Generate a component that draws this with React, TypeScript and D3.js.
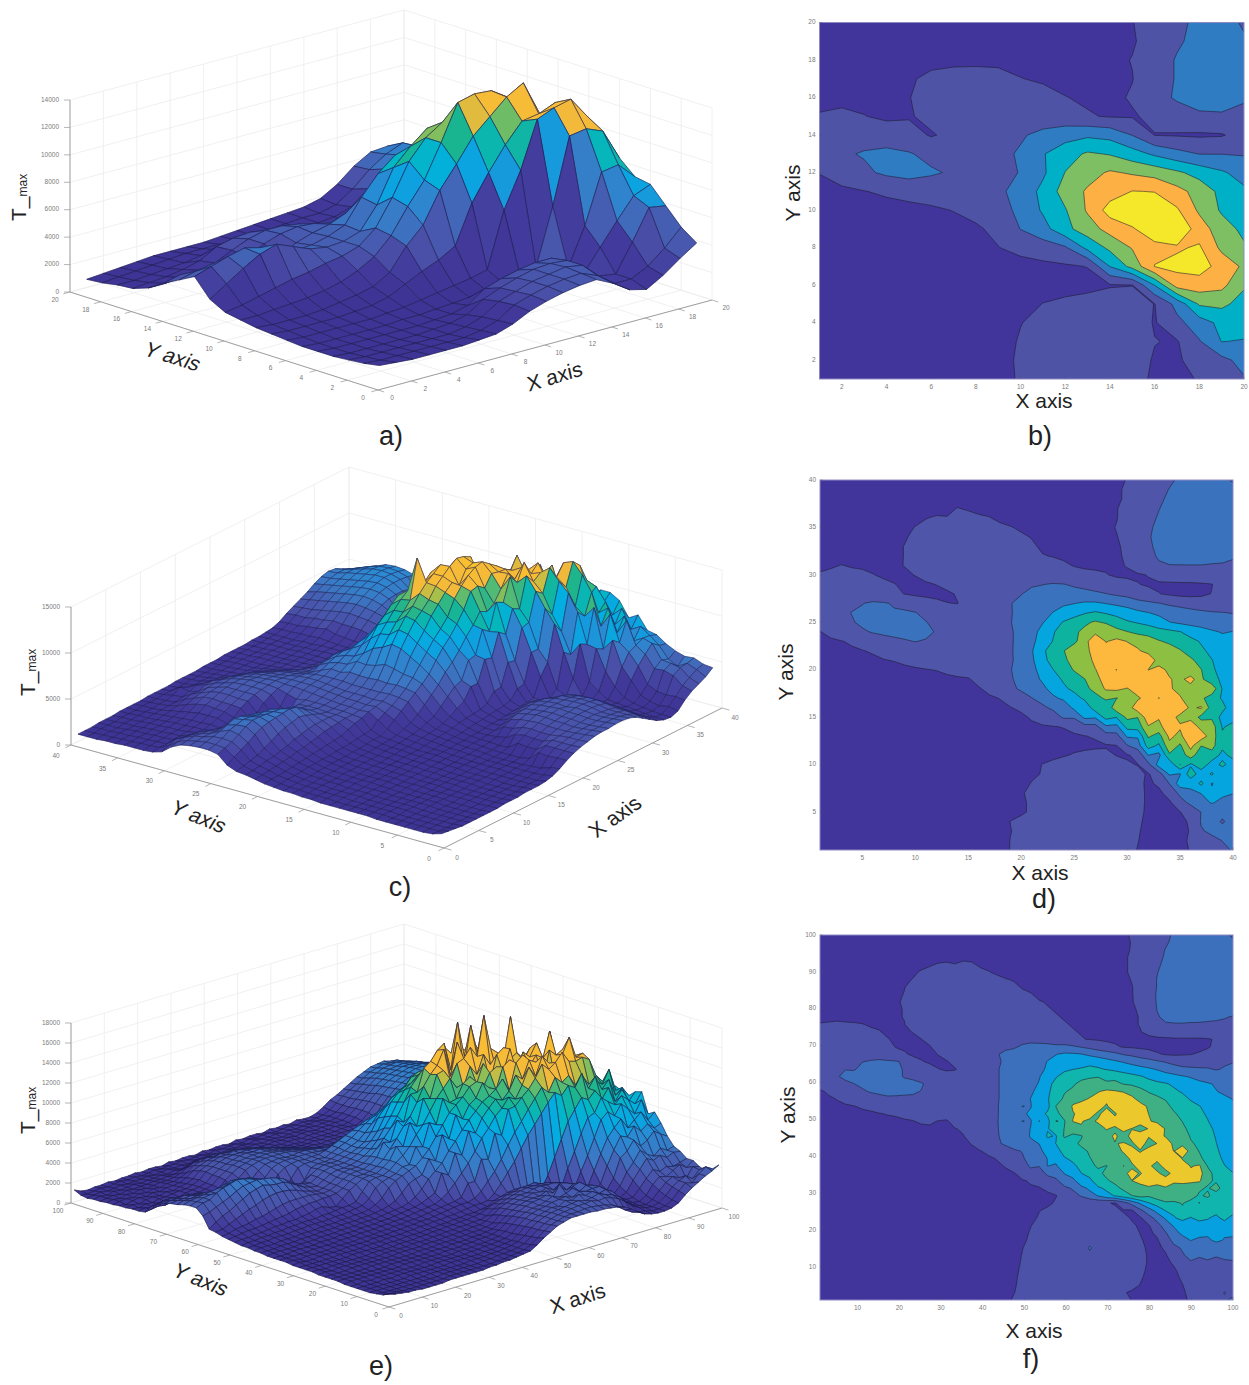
import React from 'react';
import * as d3 from 'd3';

// T_max values, in hundreds. First row is the highest Y, first column X = 1.
const tmaxA = [
  [6,7,8,9,10,10,10,10,11,12,13,14,15,16,19,26,36,43,44,38],
  [7,8,9,10,11,12,12,12,12,12,13,14,15,15,18,26,37,45,50,41],
  [9,9,10,11,12,14,15,15,15,14,14,14,15,16,20,30,41,48,51,45],
  [10,11,12,14,17,24,27,28,26,20,17,15,14,15,19,30,41,48,50,46],
  [14,14,15,17,19,25,30,33,33,31,26,20,17,16,21,32,42,48,48,41],
  [21,24,20,16,18,24,30,34,36,35,32,27,21,18,18,23,30,36,37,36],
  [27,30,32,30,26,18,24,31,35,38,43,51,56,53,39,19,18,17,18,27],
  [33,37,41,44,41,34,32,33,36,41,58,72,82,78,68,56,46,39,39,38],
  [20,28,36,43,47,42,37,35,36,40,56,80,92,102,97,92,83,72,62,52],
  [14,16,19,22,25,27,30,32,36,46,65,88,102,110,120,119,106,92,74,63],
  [12,12,13,14,15,17,20,25,32,44,62,78,102,128,131,130,122,96,77,70],
  [10,9,9,9,10,12,14,17,24,40,52,74,90,107,118,129,136,110,88,75],
  [9,8,8,8,8,9,10,13,19,25,30,37,65,84,101,115,117,122,95,82],
  [8,7,7,7,7,7,8,9,11,13,15,17,20,60,86,120,125,128,112,96],
  [7,6,6,6,6,6,7,7,8,9,10,12,14,18,19,60,108,110,105,82],
  [7,6,6,6,6,6,6,7,8,11,20,24,27,29,29,19,46,82,84,72],
  [7,6,6,6,6,6,7,8,11,19,24,28,31,32,31,18,34,50,65,70],
  [8,7,7,7,7,7,7,9,13,21,25,29,31,33,31,20,18,38,60,58],
  [9,8,8,8,8,8,8,10,14,22,26,29,31,32,27,18,18,24,34,46],
  [11,10,9,9,9,9,10,11,15,21,25,28,30,31,25,17,14,21,30,38],
];

const tmaxC = [
  [8,8,8,9,9,9,10,10,10,10, 11,11,11,11,12,12,12,12,13,13, 13,14,14,14,14,15,15,16,17,20, 25,29,33,37,42,46,48,47,43,38],
  [8,8,9,9,9,10,10,10,11,11, 11,12,12,12,12,13,13,13,13,14, 14,14,15,15,15,15,16,16,18,21, 26,30,35,40,44,47,49,49,46,43],
  [8,9,9,9,10,10,11,11,11,12, 12,14,19,15,14,14,14,14,14,14, 15,15,15,15,15,16,16,16,18,21, 26,31,37,42,46,49,52,52,50,47],
  [9,9,10,10,10,11,11,12,12,13, 13,15,17,20,18,17,16,15,15,15, 15,15,16,16,16,16,16,16,19,23, 28,33,39,44,48,51,54,55,54,51],
  [9,10,10,11,11,12,12,13,14,16, 19,21,20,23,24,21,20,17,16,16, 15,15,16,16,16,16,16,17,19,24, 29,35,41,46,50,53,56,58,57,55],
  [10,10,11,11,12,12,13,14,16,20, 23,25,27,28,28,27,25,22,20,18, 17,16,16,16,16,17,17,17,20,26, 31,37,43,48,52,55,58,59,58,56],
  [10,11,11,12,12,13,14,15,18,23, 27,29,30,31,32,31,29,27,24,21, 19,17,17,17,17,17,17,18,19,23, 30,38,44,49,53,56,58,58,57,55],
  [10,11,12,12,13,13,14,16,20,25, 28,31,33,34,34,33,32,30,27,24, 21,18,17,17,17,17,18,18,18,22, 30,37,43,48,52,54,55,55,54,52],
  [11,12,12,13,13,14,15,16,20,24, 27,31,33,35,36,35,34,32,30,27, 24,20,19,18,17,17,18,18,18,21, 29,36,41,45,48,49,49,47,44,41],
  [14,17,20,18,17,16,15,17,20,23, 27,30,33,35,36,36,35,33,32,29, 27,25,23,21,19,18,18,18,18,20, 27,34,38,39,39,39,39,38,38,37],
  [22,24,25,24,23,20,17,16,17,20, 26,30,33,35,36,37,36,35,33,31, 29,27,26,25,23,22,21,20,18,18, 18,20,26,31,34,35,36,36,36,36],
  [27,28,29,28,27,25,23,20,17,16, 17,20,27,32,35,36,37,37,36,34, 38,39,41,40,37,34,30,27,24,22, 20,18,17,16,16,16,17,19,26,31],
  [29,30,31,31,30,28,26,23,19,16, 15,14,15,22,32,36,37,38,38,39, 43,46,48,47,46,45,43,40,36,33, 28,24,20,17,15,15,16,20,27,33],
  [30,32,34,36,39,42,41,38,36,33, 28,24,20,19,29,35,37,38,39,43, 46,50,54,57,59,62,62,59,56,53, 46,43,40,36,33,30,29,28,31,35],
  [30,32,35,40,42,44,43,41,41,40, 36,33,30,30,31,34,36,37,39,42, 47,52,60,66,72,78,82,78,72,68, 64,60,56,52,49,46,43,41,40,39],
  [28,31,34,38,43,46,46,45,44,43, 40,36,33,31,31,33,35,36,39,45, 53,58,70,81,88,96,102,97,92,82, 78,74,67,60,56,53,50,48,46,44],
  [19,24,28,32,37,41,43,44,45,46, 44,38,33,31,31,32,34,35,38,44, 52,66,78,87,96,104,110,117,104,100, 95,91,87,84,80,73,68,62,58,60],
  [15,17,19,21,25,29,33,36,38,40, 38,35,32,30,30,31,33,35,38,44, 54,70,80,90,97,106,148,118,125,119, 113,110,101,96,90,84,78,72,66,62],
  [14,15,16,18,19,21,23,26,28,30, 31,31,31,30,30,31,33,35,38,45, 58,76,88,99,106,116,124,130,136,127, 122,112,118,108,101,91,82,76,70,65],
  [12,13,14,15,16,17,19,20,22,24, 26,27,28,29,29,30,32,34,38,44, 56,74,86,97,104,112,123,130,137,142, 140,136,110,105,106,103,92,80,72,66],
  [10,11,11,12,13,14,15,16,17,18, 19,20,23,26,28,31,33,35,39,45, 53,68,79,89,101,110,119,126,119,133, 136,119,126,115,109,102,100,82,74,66],
  [9,9,10,10,11,12,12,13,13,14, 14,15,16,17,18,25,29,33,38,44, 52,62,72,82,90,99,115,125,133,138, 140,134,128,121,114,128,103,86,76,66],
  [8,8,9,9,9,10,10,11,11,11, 12,12,13,14,14,18,24,30,36,42, 48,55,66,76,84,94,106,122,124,118, 130,128,127,122,113,110,104,113,78,67],
  [8,8,8,8,9,9,9,10,10,10, 11,11,12,12,13,14,17,20,25,32, 39,46,56,63,72,83,92,103,99,104, 116,129,119,128,122,104,103,90,77,66],
  [7,7,8,8,8,8,9,9,9,10, 10,10,11,11,12,13,14,16,19,22, 29,36,43,46,64,66,90,84,112,108, 132,122,140,124,132,116,122,90,86,66],
  [7,7,7,7,8,8,8,8,9,9, 9,10,10,11,11,12,13,14,15,17, 21,26,30,42,42,64,62,86,80,104, 100,132,122,128,114,112,94,96,72,74],
  [6,7,7,7,7,8,8,8,8,9, 9,9,10,10,10,11,12,13,14,15, 17,18,19,20,23,32,33,56,54,86, 88,118,112,136,122,134,112,110,78,84],
  [6,6,7,7,7,7,8,8,8,8, 9,9,9,10,10,10,11,12,12,13, 14,15,16,17,18,19,21,30,32,62, 62,102,92,124,114,138,130,110,82,92],
  [6,6,6,7,7,7,7,8,8,8, 8,9,9,9,10,10,10,11,11,12, 12,13,14,14,15,16,17,18,19,38, 50,88,76,114,96,126,100,106,84,92],
  [6,6,6,6,6,7,7,7,7,8, 8,8,8,9,9,9,10,10,11,11, 12,13,15,18,21,23,24,23,19,18, 24,60,54,96,88,110,84,92,74,86],
  [6,6,6,6,6,6,6,7,7,7, 7,8,8,8,8,9,9,10,10,11, 13,20,24,27,28,29,29,28,25,21, 19,34,68,64,100,76,92,70,84,70],
  [6,6,6,6,6,6,6,6,7,7, 7,7,7,8,8,8,9,9,9,10, 15,21,27,29,30,31,31,31,30,27, 23,18,30,62,58,92,68,82,64,76],
  [5,6,6,6,6,6,6,6,6,7, 7,7,7,7,8,8,8,8,9,11, 21,25,28,31,31,32,32,32,31,29, 23,17,22,40,70,64,84,58,70,62],
  [5,5,5,6,6,6,6,6,6,6, 7,7,7,7,7,8,8,8,9,18, 23,26,29,31,32,33,31,33,32,30, 24,17,16,26,44,56,60,64,63,60],
  [5,5,5,5,5,6,6,6,6,6, 6,7,7,7,7,8,8,8,9,17, 22,25,28,30,31,32,33,33,32,30, 24,17,15,17,32,44,53,61,55,53],
  [5,5,5,5,5,5,5,5,6,6, 6,6,6,7,7,7,8,8,11,17, 22,25,28,30,31,32,32,32,31,29, 23,17,14,14,19,27,40,46,43,48],
  [5,5,5,5,5,5,5,5,6,6, 6,6,6,6,7,7,8,9,20,24, 26,27,28,29,30,31,31,30,29,27, 22,16,13,12,15,22,41,45,38,45],
  [5,5,5,5,5,5,5,5,5,6, 6,6,6,6,7,7,8,10,19,24, 26,28,29,30,30,31,31,30,29,27, 21,15,12,11,13,21,38,43,44,46],
  [6,5,5,5,5,5,5,5,6,6, 6,6,6,7,7,7,9,13,20,24, 26,28,30,31,31,32,32,31,29,26, 20,15,11,10,15,22,30,35,40,42],
  [9,8,7,6,6,6,6,6,6,7, 7,7,8,8,8,9,11,15,20,24, 27,29,31,32,32,33,33,32,29,24, 19,14,11,10,13,21,27,31,35,41],
];

const tmaxE = [
  [12,9,8,9,9,10,9,10,10,11, 10,11,11,10,12,11,12,12,11,13, 12,13,13,12,14,13,14,14,13,15, 14,15,14,16,15,15,17,21,26,29, 33,37,41,44,47,48,49,47,43,37],
  [9,8,9,10,9,10,11,10,11,10, 11,12,11,12,12,13,12,13,13,12, 14,13,14,14,13,15,14,15,15,14, 15,16,15,16,15,16,17,20,25,30, 34,38,42,46,48,50,49,50,47,42],
  [8,9,10,9,10,11,10,11,11,12, 11,12,13,12,13,12,14,13,14,14, 13,15,14,15,14,16,15,15,16,15, 16,15,16,16,17,16,18,20,25,30, 35,40,44,47,50,51,52,51,49,46],
  [9,10,9,11,10,11,12,11,12,12, 13,12,14,13,14,15,16,17,17,15, 15,14,16,15,16,15,16,16,15,16, 16,16,17,16,17,17,18,21,25,31, 36,41,46,49,51,52,53,52,51,48],
  [9,10,11,10,12,11,12,12,13,13, 14,14,16,18,21,22,20,22,21,18, 17,16,16,15,16,16,17,16,17,16, 17,17,16,17,17,18,18,21,26,32, 37,43,47,50,52,54,54,53,52,50],
  [10,11,10,12,11,13,12,13,14,14, 15,17,21,24,25,26,26,25,24,22, 20,18,17,17,16,17,16,17,17,16, 17,17,17,17,18,17,18,21,26,33, 39,44,48,51,53,55,55,55,53,51],
  [10,11,12,11,13,12,14,13,15,15, 17,20,25,27,29,28,30,29,29,26, 25,22,20,19,18,17,17,17,16,17, 17,17,17,17,18,18,17,20,26,33, 40,45,49,52,54,56,56,55,54,52],
  [11,10,12,13,12,14,13,15,15,16, 19,24,27,30,31,33,32,33,31,30, 28,26,24,21,19,18,18,17,17,18, 17,18,17,18,18,17,18,19,24,33, 40,46,50,53,55,56,56,56,54,52],
  [11,12,11,13,14,13,15,14,16,17, 20,26,29,32,34,34,36,35,34,33, 31,29,27,24,21,20,18,18,18,17, 18,18,18,17,18,18,18,19,23,32, 41,47,50,53,55,57,56,56,54,52],
  [12,11,13,12,14,14,15,16,16,18, 21,27,30,33,35,36,36,37,36,35, 33,31,29,27,24,21,20,19,18,18, 18,17,18,18,18,18,18,19,22,30, 41,46,50,53,54,55,55,55,53,51],
  [12,13,12,14,13,15,14,16,17,18, 20,26,30,33,35,37,38,37,38,36, 35,33,31,29,26,23,21,20,19,18, 18,18,18,18,17,18,18,18,21,28, 40,45,49,51,53,54,54,53,52,50],
  [13,14,15,14,15,15,16,16,17,18, 20,26,30,34,36,37,38,38,38,37, 36,34,33,31,28,26,24,21,20,19, 18,18,18,18,18,18,18,18,20,26, 38,43,46,47,47,46,45,43,41,38],
  [21,22,23,22,21,20,18,18,17,18, 19,25,30,34,36,38,38,39,39,38, 37,36,34,33,31,29,27,24,22,20, 19,18,18,17,18,18,17,18,20,25, 31,38,38,38,37,37,36,36,35,35],
  [25,26,27,26,25,24,22,20,18,17, 17,20,27,33,36,38,39,39,39,39, 38,37,36,35,33,31,29,27,24,22, 20,19,18,18,17,17,17,18,19,23, 28,31,33,34,34,33,33,33,32,32],
  [28,29,29,30,29,28,26,23,20,18, 16,16,19,26,33,37,38,39,38,38, 39,39,38,37,36,35,33,30,27,25, 22,20,19,18,17,16,16,16,16,16, 16,16,17,17,17,17,18,21,26,29],
  [30,31,31,32,31,30,29,26,23,19, 16,15,15,18,28,35,38,39,39,39, 39,39,38,38,41,44,45,46,44,45, 42,38,34,29,25,22,18,17,16,16, 15,14,14,15,15,16,18,23,28,32],
  [31,33,33,34,35,33,32,30,27,23, 22,16,15,15,20,31,36,38,39,38, 39,39,41,44,47,50,53,56,59,62, 62,60,56,52,48,44,38,35,30,25, 21,18,17,18,19,21,24,29,33,36],
  [33,35,36,37,38,39,41,43,42,41, 37,29,21,17,16,17,27,36,38,38, 39,38,41,44,47,50,55,60,64,68, 69,71,72,70,66,62,58,54,50,47, 42,38,34,30,29,28,31,34,37,39],
  [34,36,38,39,38,43,45,46,45,44, 38,38,33,26,20,17,18,26,36,38, 38,39,41,43,46,49,55,62,70,76, 79,81,85,82,78,75,71,68,65,62, 58,52,47,44,43,42,41,38,41,42],
  [34,37,38,43,46,48,50,49,47,45, 38,36,33,30,28,27,28,33,37,39, 39,39,41,43,46,50,58,70,78,86, 91,94,97,99,97,93,89,85,81,76, 72,68,65,61,58,55,52,50,47,46],
  [28,30,33,36,39,43,46,47,48,47, 46,44,41,36,32,30,29,33,37,39, 39,39,41,44,48,53,61,73,86,93, 97,105,108,104,101,105,99,97,92,86, 83,81,77,71,67,63,61,58,55,52],
  [17,22,26,29,33,37,41,43,45,43, 42,42,39,35,31,29,28,32,36,38, 38,39,41,44,49,56,66,76,88,98, 103,109,112,118,124,121,118,112,106,98, 94,88,82,78,72,68,64,60,57,55],
  [16,17,20,23,26,29,31,34,36,37, 37,36,34,31,29,27,28,31,35,38, 39,39,41,46,52,60,68,78,90,103, 111,115,121,128,133,125,131,124,113,108, 103,98,89,84,78,74,70,66,62,59],
  [14,15,17,18,19,21,22,24,26,28, 29,29,29,29,28,27,28,31,35,38, 39,39,42,47,60,58,78,74,100,100, 122,127,136,141,112,158,122,138,126,117, 109,106,94,90,84,80,76,70,66,62],
  [13,14,15,16,16,17,18,19,20,21, 23,24,25,25,26,26,27,30,35,38, 38,39,42,47,55,64,74,82,94,108, 118,125,139,110,142,112,155,126,133,119, 112,108,102,93,88,82,78,74,68,63],
  [12,13,13,14,14,15,16,16,17,17, 18,19,21,22,19,18,24,30,34,38, 39,39,43,48,60,58,80,74,100,98, 120,122,110,125,128,137,126,165,130,124, 108,116,106,99,90,86,80,74,69,64],
  [11,12,12,13,13,14,14,15,15,16, 16,16,17,17,18,19,19,21,29,37, 39,39,42,48,53,60,70,78,89,100, 108,116,105,103,122,112,130,118,108,121, 160,114,108,103,95,90,84,76,70,65],
  [11,11,12,12,13,13,13,14,14,15, 15,15,15,16,16,17,18,19,24,33, 37,39,41,46,46,62,60,82,78,102, 96,98,111,116,107,125,104,130,135,122, 126,118,111,107,98,94,87,78,71,66],
  [10,11,11,11,12,12,12,13,13,13, 14,14,14,15,15,16,16,17,20,25, 33,38,41,44,47,53,60,70,80,90, 96,102,110,113,105,118,122,114,136,106, 120,131,115,108,101,97,88,80,72,67],
  [10,10,10,11,11,11,12,12,12,13, 13,13,14,14,14,15,15,16,17,19, 22,28,35,38,40,54,50,74,68,90, 84,96,101,114,107,103,124,129,116,133, 126,138,118,145,106,99,92,82,74,69],
  [9,10,10,10,10,11,11,11,12,12, 12,13,13,13,14,14,14,15,16,17, 18,20,24,30,38,44,50,60,68,77, 85,92,99,103,108,116,102,128,134,121, 130,125,150,117,109,102,95,85,76,70],
  [9,9,9,10,10,10,10,11,11,11, 12,12,12,13,13,13,14,14,15,16, 17,18,20,23,26,44,40,60,56,78, 74,87,95,102,99,106,120,114,131,127, 104,135,128,132,118,122,98,88,80,74],
  [9,9,9,9,9,10,10,10,10,11, 11,11,12,12,12,13,13,14,14,15, 16,17,18,19,22,27,34,42,50,60, 71,79,89,95,104,100,112,128,117,135, 126,105,131,146,124,126,108,91,84,80],
  [9,9,8,9,9,9,9,10,10,10, 10,11,11,11,12,12,13,13,14,14, 15,16,17,18,19,20,22,34,34,54, 52,76,72,96,97,104,110,119,131,124, 129,137,126,124,126,122,104,96,90,87],
  [8,9,8,8,9,9,9,9,10,10, 10,10,11,11,11,12,12,13,13,14, 14,15,16,17,18,19,19,21,26,34, 42,52,64,75,84,94,103,112,105,118, 111,116,104,112,101,103,97,110,87,84],
  [8,8,8,8,8,8,9,9,9,9, 10,10,10,11,11,11,12,12,13,13, 14,14,15,15,16,17,18,18,19,24, 32,41,50,61,72,81,90,99,107,102, 110,106,118,101,111,96,104,86,92,82],
  [8,8,8,8,8,8,8,9,9,9, 9,9,10,10,10,11,11,11,12,12, 13,13,14,14,15,15,16,17,21,23, 25,26,25,24,21,18,30,46,62,78, 88,98,94,101,90,100,84,94,80,88],
  [8,8,7,8,8,8,8,8,8,9, 9,9,9,10,10,10,11,11,12,12, 13,13,14,14,15,16,19,22,24,27, 28,30,30,31,28,23,18,17,35,50, 66,80,83,96,90,85,92,86,80,90],
  [7,8,7,8,8,8,8,8,8,8, 9,9,9,9,10,10,10,11,11,12, 12,13,13,14,14,16,21,24,27,29, 31,32,32,32,31,29,24,18,17,32, 46,62,78,84,78,88,81,74,86,70],
  [7,7,7,7,8,8,8,8,8,8, 8,9,9,9,9,10,10,10,11,11, 12,12,13,13,15,19,24,27,29,31, 31,33,34,33,33,31,28,22,17,18, 33,48,62,70,77,66,72,78,68,74],
  [7,7,7,7,7,7,8,8,8,8, 8,8,8,9,9,9,10,10,10,11, 11,12,12,13,15,21,25,28,30,31, 33,32,34,30,35,33,30,26,19,17, 22,38,52,64,61,70,63,68,62,65],
  [7,7,7,7,7,7,7,7,8,8, 8,8,8,8,9,9,9,10,10,10, 11,11,12,13,17,22,26,29,31,32, 32,35,31,36,30,34,32,28,21,16, 18,28,46,51,60,52,56,63,58,54],
  [6,7,7,7,7,7,7,7,7,8, 8,8,8,8,8,9,9,9,10,10, 11,11,12,14,19,24,27,30,32,33, 35,30,42,29,36,38,33,29,23,17, 16,22,34,42,52,46,42,48,44,46],
  [6,6,7,6,7,7,7,7,7,7, 7,8,8,8,8,8,9,9,9,10, 10,11,12,15,20,25,28,30,31,33, 36,33,35,38,33,37,35,30,24,18, 15,18,28,37,46,42,45,41,44,43],
  [6,6,6,6,7,6,7,7,7,7, 7,7,8,8,8,8,8,9,9,10, 10,11,12,15,21,26,29,31,32,34, 35,36,33,37,35,36,36,31,24,18, 15,15,22,30,37,33,36,34,36,38],
  [6,6,6,6,6,6,6,7,7,7, 7,7,7,8,8,8,8,8,9,9, 10,11,12,16,22,26,29,31,33,32, 36,34,38,35,37,33,35,31,23,17, 14,13,17,26,32,30,34,38,33,38],
  [6,6,6,6,6,6,6,6,6,7, 7,7,7,7,7,8,8,8,9,9, 10,11,13,17,23,27,30,32,33,34, 35,36,34,35,37,34,32,28,21,16, 13,12,15,22,28,32,29,26,36,34],
  [7,6,6,6,6,6,6,6,6,6, 7,7,7,7,7,7,8,8,9,9, 10,11,13,18,23,27,30,32,33,34, 35,35,36,34,35,33,30,25,19,15, 13,12,14,19,26,30,33,28,35,32],
  [8,7,7,6,6,6,6,6,6,6, 7,7,7,7,7,7,7,8,8,9, 10,11,14,19,24,28,30,32,33,33, 34,34,33,32,30,26,21,17,15,14, 12,12,13,17,24,30,28,35,40,36],
  [11,9,8,7,7,6,6,6,6,7, 7,7,7,7,7,8,8,9,9,10, 11,12,16,21,25,29,31,33,33,33, 33,32,32,31,30,28,24,19,15,13, 12,12,13,16,22,27,31,35,38,42],
];

// Axis ticks
const zTicksA = [0,2000,4000,6000,8000,10000,12000,14000];
const zTicksC = [0,5000,10000,15000];
const zTicksE = [0,2000,4000,6000,8000,10000,12000,14000,16000,18000];
const xyTicksA = [0,2,4,6,8,10,12,14,16,18,20];
const xyTicksC = [0,5,10,15,20,25,30,35,40];
const xyTicksE = [0,10,20,30,40,50,60,70,80,90,100];

// contour levels, hundreds (kept just off the integers the grids are read in)
const levels = [19.5,39.5,59.5,79.5,99.5,119.5];

const FONT = '"Liberation Sans", Arial, sans-serif';
const AXIS = '#959595';
const GRID = '#ececec';
const TICK_TEXT = '#7a7a7a';

// colormap stops (in hundreds, for a peak of 140)
const cmapStops = [10,18,25,35,42,55,62,72,80,90,100,104,108,130,140];
const cmapColors = ['#3e3495','#423a9c','#4a50a8','#4560b3','#3a78c4','#2a8ad2','#0fa0e0','#03aee0','#03b6c4','#18b590','#5cbb70','#a6c04a','#f3b93a','#fbc030','#f5e125'];

const DARK = '#41349a';
const paletteB = ['#4f53a6','#2f7cc3','#00b0c6','#7dbf62','#fdb044','#f5e82a'];
const paletteD = ['#4f55a8','#3b72bd','#05a6df','#0db39f','#8cbf42','#fdb83e'];
const paletteF = ['#4b52a8','#3c70bd','#069fe0','#10b5ad','#3fb083','#ebc92c'];

type P = [number, number];

const SkewLabel = ({ x, y, rot, skew = 0, text }: any) => (
  <text transform={`translate(${x},${y}) rotate(${rot}) skewX(${skew})`} textAnchor="middle" dominantBaseline="middle"
    fontFamily={FONT} fontSize={21} fill="#222">{text}</text>
);

const TMax = ({ x, y }: any) => (
  <text transform={`translate(${x},${y}) rotate(-90)`} fontFamily={FONT} fontSize={21} fill="#222">
    T_<tspan fontSize={12} dy={1}>max</tspan>
  </text>
);

const Surface = ({ rows, front, xEnd, yEnd, zPx, zMax, xMax, zTicks, xyTicks, peak, mesh, meshW, meshO = 1, meanColor, yOff, xOff }: any) => {
  const n = rows.length;
  const toX = d3.scaleLinear([0, xMax], [0, 1]);
  const project = (x: number, y: number, z: number): P => [
    front[0] + toX(x) * (xEnd[0] - front[0]) + toX(y) * (yEnd[0] - front[0]),
    front[1] + toX(x) * (xEnd[1] - front[1]) + toX(y) * (yEnd[1] - front[1]) - (z / zMax) * zPx,
  ];
  const gx = d3.scaleLinear([0, n - 1], [1, xMax]);
  const gy = d3.scaleLinear([0, n - 1], [xMax, 1]);
  const color = d3.scaleLinear<string>().domain(cmapStops.map(s => (s * peak) / 140)).range(cmapColors).clamp(true);
  const line = d3.line();

  const walls: P[][] = [];
  zTicks.forEach((z: number) => {
    walls.push([project(0, xMax, z), project(xMax, xMax, z), project(xMax, 0, z)]);
  });
  xyTicks.forEach((t: number) => {
    walls.push([project(t, xMax, 0), project(t, xMax, zMax)]);
    walls.push([project(xMax, t, 0), project(xMax, t, zMax)]);
    walls.push([project(t, 0, 0), project(t, xMax, 0)]);
    walls.push([project(0, t, 0), project(xMax, t, 0)]);
  });

  // back to front, each face takes the colour of its front corner like surf does
  const faces: any[] = [];
  for (let r = 0; r < n - 1; r++) {
    for (let c = n - 2; c >= 0; c--) {
      const pts = [
        project(gx(c), gy(r + 1), rows[r + 1][c] * 100),
        project(gx(c + 1), gy(r + 1), rows[r + 1][c + 1] * 100),
        project(gx(c + 1), gy(r), rows[r][c + 1] * 100),
        project(gx(c), gy(r), rows[r][c] * 100),
      ];
      const v = meanColor ? (rows[r + 1][c] + rows[r + 1][c + 1] + rows[r][c + 1] + rows[r][c]) / 4 : rows[r + 1][c];
      faces.push(<path key={`${r}-${c}`} d={line(pts) + 'Z'} fill={color(v)} stroke={color(v)} strokeWidth={0.3} />);
      faces.push(<path key={`m${r}-${c}`} d={line(pts) + 'Z'} fill="none" stroke={mesh} strokeWidth={meshW} strokeOpacity={meshO} />);
    }
  }

  return (
    <g>
      {walls.map((w, i) => <path key={i} d={line(w) as string} fill="none" stroke={GRID} strokeWidth={0.8} />)}
      <path d={line([project(0, xMax, zMax), project(0, xMax, 0), project(0, 0, 0), project(xMax, 0, 0)]) as string} fill="none" stroke={AXIS} strokeWidth={0.9} />
      {zTicks.map((z: number) => {
        const p = project(0, xMax, z);
        return (
          <g key={z}>
            <line x1={p[0] - 6} x2={p[0]} y1={p[1]} y2={p[1]} stroke={AXIS} strokeWidth={0.7} />
            <text x={p[0] - 11} y={p[1]} textAnchor="end" dominantBaseline="middle" fontFamily={FONT} fontSize={6.5} fill={TICK_TEXT}>{z}</text>
          </g>
        );
      })}
      {xyTicks.map((t: number) => {
        const py = project(0, t, 0);
        const px = project(t, 0, 0);
        const tickY = project(-xMax * 0.02, t, 0);
        const tickX = project(t, -xMax * 0.02, 0);
        return (
          <g key={t}>
            <line x1={py[0]} y1={py[1]} x2={tickY[0]} y2={tickY[1]} stroke={AXIS} strokeWidth={0.7} />
            <line x1={px[0]} y1={px[1]} x2={tickX[0]} y2={tickX[1]} stroke={AXIS} strokeWidth={0.7} />
            <text x={py[0] + yOff[0]} y={py[1] + yOff[1]} textAnchor="middle" dominantBaseline="middle" fontFamily={FONT} fontSize={6.5} fill={TICK_TEXT}>{t}</text>
            <text x={px[0] + xOff[0]} y={px[1] + xOff[1]} textAnchor="middle" dominantBaseline="middle" fontFamily={FONT} fontSize={6.5} fill={TICK_TEXT}>{t}</text>
          </g>
        );
      })}
      <g strokeLinejoin="round">{faces}</g>
    </g>
  );
};

const ContourPlot = ({ id, rows, left, right, top, bottom, xMax, ticks, palette }: any) => {
  const n = rows.length;
  const sx = d3.scaleLinear([0.5, n - 0.5], [left, right]);
  const sy = d3.scaleLinear([0.5, n - 0.5], [top, bottom]);
  const tx = d3.scaleLinear([1, xMax], [left, right]);
  const ty = d3.scaleLinear([1, xMax], [bottom, top]);
  const bands = d3.contours().size([n, n]).thresholds(levels)(rows.flat());
  const path = d3.geoPath(d3.geoTransform({
    point(x: number, y: number) { (this as any).stream.point(sx(x), sy(y)); },
  }));
  return (
    <g>
      <clipPath id={id}><rect x={left} y={top} width={right - left} height={bottom - top} /></clipPath>
      <rect x={left} y={top} width={right - left} height={bottom - top} fill={DARK} />
      <g clipPath={`url(#${id})`}>
        {bands.map((b, i) => (
          <path key={i} d={path(b as any) as string} fill={palette[i]} stroke="#1d1d2e" strokeWidth={0.7} strokeOpacity={0.8} />
        ))}
      </g>
      <rect x={left} y={top} width={right - left} height={bottom - top} fill="none" stroke="#8e8ac4" strokeWidth={1} />
      {ticks.map((t: number) => (
        <g key={t}>
          <line x1={tx(t)} x2={tx(t)} y1={bottom} y2={bottom - 3} stroke="#555" strokeOpacity={0.5} strokeWidth={0.6} />
          <line x1={left} x2={left + 3} y1={ty(t)} y2={ty(t)} stroke="#555" strokeOpacity={0.5} strokeWidth={0.6} />
          <text x={tx(t)} y={bottom + 8} textAnchor="middle" dominantBaseline="middle" fontFamily={FONT} fontSize={6.5} fill={TICK_TEXT}>{t}</text>
          <text x={left - 4} y={ty(t)} textAnchor="end" dominantBaseline="middle" fontFamily={FONT} fontSize={6.5} fill={TICK_TEXT}>{t}</text>
        </g>
      ))}
    </g>
  );
};

const Caption = ({ x, y, text }: any) => (
  <text x={x} y={y} textAnchor="middle" dominantBaseline="middle" fontFamily={FONT} fontSize={27} fill="#222">{text}</text>
);

const AxisLabel = ({ x, y, text, vertical }: any) => (
  <text transform={`translate(${x},${y})${vertical ? ' rotate(-90)' : ''}`} textAnchor="middle" dominantBaseline="middle"
    fontFamily={FONT} fontSize={21} fill="#222">{text}</text>
);

export default function App() {
  return (
    <svg width={1249} height={1385} style={{ position: 'absolute', left: 0, top: 0, background: '#fff' }}>
      <Surface rows={tmaxA} front={[378, 390]} xEnd={[712, 300]} yEnd={[70, 292]} zPx={192} zMax={14000} xMax={20}
        zTicks={zTicksA} xyTicks={xyTicksA} peak={140} mesh="#1b1b4d" meshW={0.6} yOff={[-15, 8]} xOff={[14, 8]} />
      <TMax x={26} y={221} />
      <SkewLabel x={172} y={358} rot={17} skew={-12} text="Y axis" />
      <SkewLabel x={555} y={378} rot={-17} skew={-5} text="X axis" />
      <Caption x={391} y={438} text="a)" />

      <ContourPlot id="clipB" rows={tmaxA} left={819.5} right={1244} top={22.5} bottom={379} xMax={20} ticks={xyTicksA.slice(1)} palette={paletteB} />
      <AxisLabel x={1044} y={402} text="X axis" />
      <AxisLabel x={794} y={193} text="Y axis" vertical />
      <Caption x={1040} y={438} text="b)" />

      <Surface rows={tmaxC} front={[444, 848]} xEnd={[722, 708]} yEnd={[71, 745]} zPx={138} zMax={15000} xMax={40}
        zTicks={zTicksC} xyTicks={xyTicksC} peak={148} mesh="#1b1b4d" meshW={0.5} yOff={[-15, 11]} xOff={[13, 10]} />
      <TMax x={35} y={696} />
      <SkewLabel x={198} y={818} rot={22} skew={-10} text="Y axis" />
      <SkewLabel x={616} y={818} rot={-35} skew={8} text="X axis" />
      <Caption x={400} y={889} text="c)" />

      <ContourPlot id="clipD" rows={tmaxC} left={820} right={1233} top={480} bottom={850} xMax={40} ticks={xyTicksC.slice(1)} palette={paletteD} />
      <AxisLabel x={1040} y={874} text="X axis" />
      <AxisLabel x={787} y={672} text="Y axis" vertical />
      <Caption x={1044} y={901} text="d)" />

      <Surface rows={tmaxE} front={[389, 1307]} xEnd={[722, 1208]} yEnd={[71, 1203]} zPx={180} zMax={18000} xMax={100}
        zTicks={zTicksE} xyTicks={xyTicksE} peak={155} mesh="#14143c" meshW={0.7} meshO={0.8} meanColor yOff={[-13, 8]} xOff={[12, 9]} />
      <TMax x={35} y={1134} />
      <SkewLabel x={200} y={1281} rot={22} skew={-10} text="Y axis" />
      <SkewLabel x={578} y={1300} rot={-18} skew={-3} text="X axis" />
      <Caption x={381} y={1368} text="e)" />

      <ContourPlot id="clipF" rows={tmaxE} left={820} right={1233} top={935} bottom={1300} xMax={100} ticks={xyTicksE.slice(1)} palette={paletteF} />
      <AxisLabel x={1034} y={1332} text="X axis" />
      <AxisLabel x={789} y={1115} text="Y axis" vertical />
      <Caption x={1031} y={1361} text="f)" />
    </svg>
  );
}
